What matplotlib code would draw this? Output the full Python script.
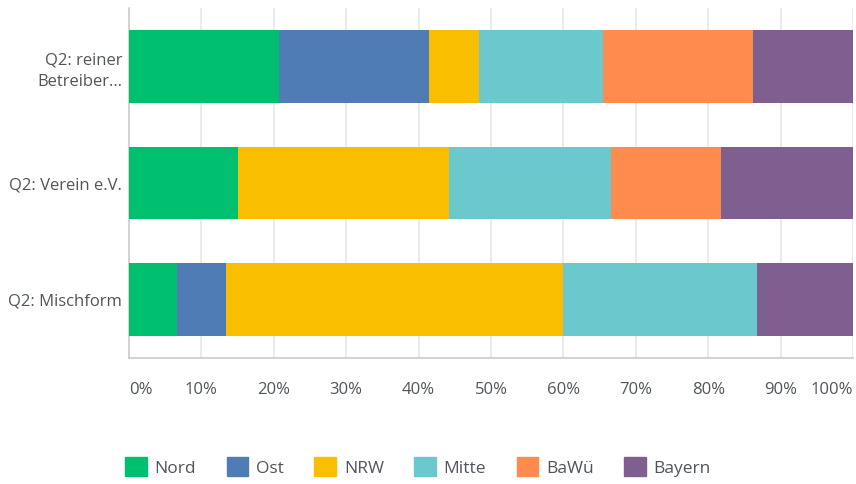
import matplotlib
matplotlib.use("Agg")
import matplotlib.pyplot as plt
from matplotlib.patches import Patch
import matplotlib.transforms as mtransforms
import numpy as np

categories = ["Q2: reiner\nBetreiber…", "Q2: Verein e.V.", "Q2: Mischform"]
series_names = ["Nord", "Ost", "NRW", "Mitte", "BaWü", "Bayern"]
nord = [20.69, 15.1, 6.67]
ost = [20.69, 0.0, 6.67]
nrw = [6.90, 29.1, 46.67]
mitte = [17.24, 22.4, 26.67]
bawue = [20.69, 15.1, 0.0]
bayern = [13.79, 18.3, 13.33]
series_values = [nord, ost, nrw, mitte, bawue, bayern]
colors = ["#00BF6F", "#507CB6", "#F9BE00", "#6BC8CD", "#FF8B4F", "#7F5F90"]
tick_vals = list(range(0, 101, 10))
tick_labels = [f"{v}%" for v in tick_vals]

plt.rcParams['font.family'] = ['Open Sans', 'DejaVu Sans']
text_color = "#50555c"

fig = plt.figure(figsize=(8.56, 4.84), dpi=100)
ax = fig.add_axes([129/856, 1-358/484, (853-129)/856, (358-8)/484])

y = np.arange(len(categories))
left = np.zeros(len(categories))
for name, vals, c in zip(series_names, series_values, colors):
    ax.barh(y, vals, left=left, height=0.625, color=c, label=name, zorder=3)
    left += np.array(vals)

ax.set_xlim(0, 100)
ax.set_ylim(2.5, -0.5)
ax.set_yticks(y)
ax.set_yticklabels(categories, fontsize=12, color=text_color, linespacing=1.45)
ax.set_xticks(tick_vals)
ax.set_xticklabels(tick_labels, fontsize=12, color=text_color)
labs = ax.get_xticklabels()
labs[0].set_horizontalalignment('left')
labs[-1].set_horizontalalignment('right')
labs[-1].set_transform(labs[-1].get_transform() + mtransforms.ScaledTranslation(3/100, 0, fig.dpi_scale_trans))
ax.tick_params(axis='x', length=0, pad=17)
ax.tick_params(axis='y', length=0, pad=5)

ax.grid(axis='x', color="#ebebeb", linewidth=1.5, zorder=0)
for s in ['top', 'right']:
    ax.spines[s].set_visible(False)
for s in ['left', 'bottom']:
    ax.spines[s].set_color("#cccccc")
    ax.spines[s].set_linewidth(1.2)

handles = [Patch(facecolor=c, edgecolor=c, label=n) for n, c in zip(series_names, colors)]
leg = fig.legend(handles=handles, loc='center', bbox_to_anchor=(418/856, 1-467/484), ncol=6,
                 frameon=False, fontsize=12.5, handlelength=1.25, handleheight=1.25,
                 handletextpad=0.45, columnspacing=1.75)
for t in leg.get_texts():
    t.set_color(text_color)

fig.savefig("out.png", dpi=100)
